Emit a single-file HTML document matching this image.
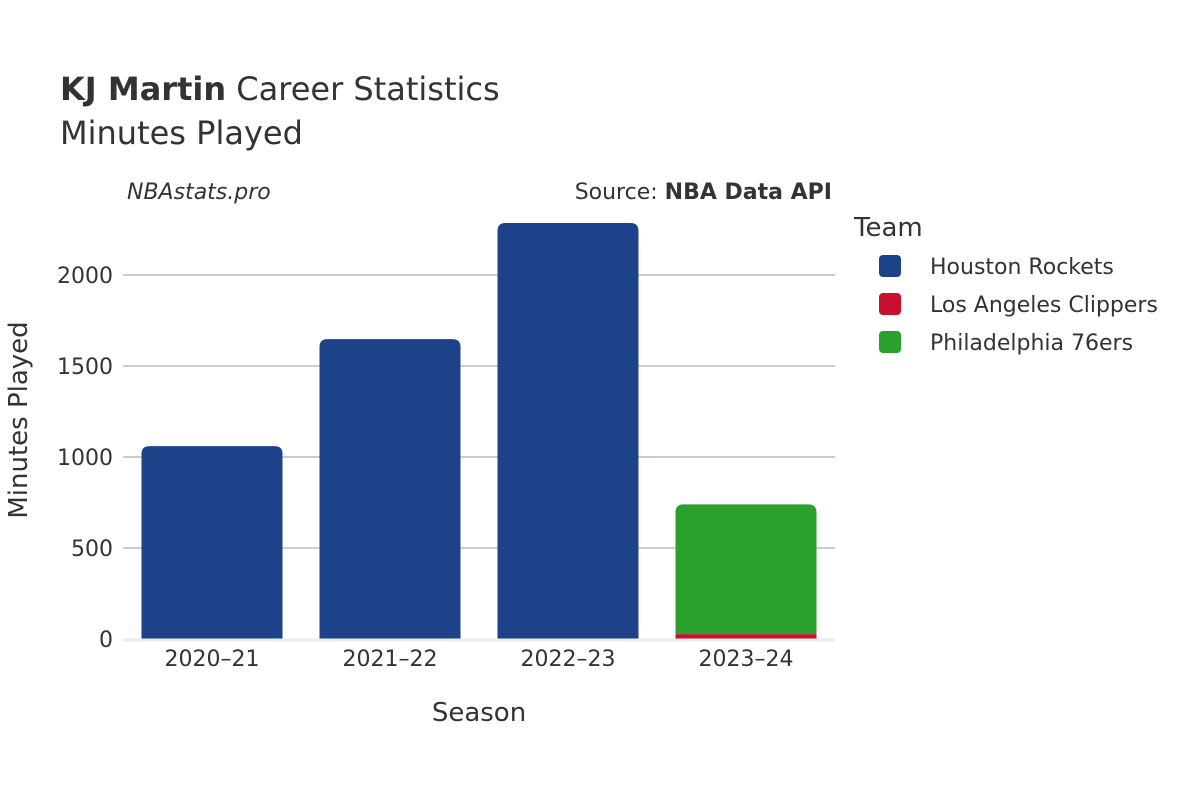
<!DOCTYPE html>
<html><head><meta charset="utf-8"><style>
body{margin:0;background:#fff;font-family:"Liberation Sans","DejaVu Sans",sans-serif;}
svg text{font-family:"DejaVu Sans","Liberation Sans",sans-serif;fill:#333;}
</style></head><body>
<svg id="chart" width="1200" height="800">
<text x="60" y="100" font-size="32"><tspan font-weight="bold" fill="#333">KJ Martin</tspan> Career Statistics</text>
<text x="60" y="144" font-size="32">Minutes Played</text>
<text x="127" y="199" font-size="22" font-style="italic">NBAstats.pro</text>
<text x="832" y="199" font-size="22" text-anchor="end">Source: <tspan font-weight="bold">NBA Data API</tspan></text>
<g id="grid"></g>
<g id="bars"></g>
<g id="xticks"></g>
<text x="479" y="721" font-size="26" text-anchor="middle">Season</text>
<text transform="translate(27,420) rotate(-90)" font-size="26" text-anchor="middle">Minutes Played</text>
<text x="854" y="236" font-size="26">Team</text>
<g id="legend"></g>
</svg>
<script>
const seasons=["2020–21","2021–22","2022–23","2023–24"];
const teams=["Houston Rockets","Los Angeles Clippers","Philadelphia 76ers"];
const colors=["#1d428a","#c8102e","#2ca02c"];
const rockets=[1060,1648,2286,0];
const clippers=[0,0,0,27];
const sixers=[0,0,0,713];
const yTicks=[0,500,1000,1500,2000];
const series=[rockets,clippers,sixers];
const ns="http://www.w3.org/2000/svg";
const X0=123,X1=835,Y0=639,K=0.182;
const y=v=>Y0-v*K;
const band=(X1-X0)/seasons.length, bw=141;
const bx=i=>X0+band*i+(band-bw)/2;
function mk(t,a,p){const e=document.createElementNS(ns,t);for(const k in a)e.setAttribute(k,a[k]);p.appendChild(e);return e;}
const grid=document.getElementById('grid');
yTicks.forEach(v=>{
 if(v>0){const l=mk('line',{x1:X0,x2:X1,y1:y(v),y2:y(v),stroke:'#999','stroke-width':1},grid);
 
 }
 const t=mk('text',{x:113,y:y(v)+8,'font-size':22,'text-anchor':'end'},grid);t.textContent=v;
 
 
});
const bars=document.getElementById('bars');
seasons.forEach((s,i)=>{
 let base=0;const tot=series.reduce((a,sr)=>a+sr[i],0);
 series.forEach((sr,j)=>{
  const v=sr[i];if(!v)return;
  const top=y(base+v),bot=y(base);
  const isTop=(base+v)===tot;
  let d;const x=bx(i),r=isTop?Math.min(8,(bot-top)):0;
  d=`M${x},${bot}V${top+r}Q${x},${top} ${x+r},${top}H${x+bw-r}Q${x+bw},${top} ${x+bw},${top+r}V${bot}Z`;
  const p=mk('path',{d:d,fill:colors[j]},bars);
  
  
  base+=v;
 });
});
const ax=mk('line',{x1:X0,x2:X1,y1:Y0+1,y2:Y0+1,stroke:'#ebebeb','stroke-width':3},bars);


const xt=document.getElementById('xticks');
seasons.forEach((s,i)=>{
 const t=mk('text',{x:bx(i)+bw/2,y:666,'font-size':22,'text-anchor':'middle'},xt);t.textContent=s;
 
 
});
const lg=document.getElementById('legend');
teams.forEach((tm,j)=>{
 const yy=266+j*38;
 const r=mk('rect',{x:879,y:yy-11,width:22,height:22,rx:4,fill:colors[j]},lg);
 
 
 const t=mk('text',{x:930,y:yy+8,'font-size':22},lg);t.textContent=tm;
 
 
});
</script>
</body></html>
